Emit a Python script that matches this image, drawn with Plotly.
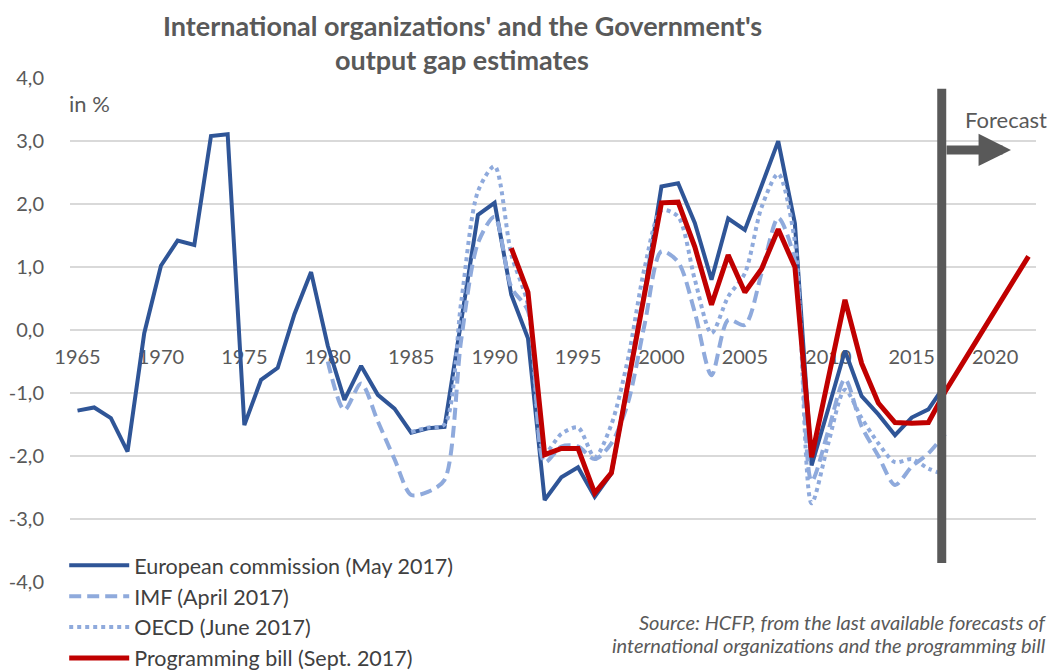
import plotly.graph_objects as go

# ---- data ----
ec_years = list(range(1965, 2018))
ec_values = [-1.28, -1.23, -1.40, -1.93, -0.05, 1.02, 1.42, 1.35, 3.08, 3.11,
             -1.51, -0.79, -0.60, 0.25, 0.92, -0.25, -1.11, -0.57, -1.03, -1.25,
             -1.63, -1.56, -1.54, 0.15, 1.83, 2.02, 0.56, -0.13, -2.70, -2.34,
             -2.18, -2.65, -2.28, -0.82, 0.62, 2.28, 2.33, 1.70, 0.80, 1.77,
             1.59, 2.29, 3.00, 1.69, -2.15, -1.25, -0.33, -1.05, -1.34, -1.67,
             -1.39, -1.26, -0.87]

imf_years = list(range(1980, 2018))
imf_values = [-0.50, -1.27, -0.85, -1.45, -2.05, -2.62, -2.57, -2.38, -0.15, 1.38,
              1.80, 0.68, 0.30, -2.10, -1.85, -1.85, -2.05, -1.80, -1.15, 0.10,
              1.25, 1.08, 0.28, -0.72, 0.16, 0.08, 0.90, 1.78, 1.10, -2.40,
              -1.60, -0.78, -1.53, -2.00, -2.46, -2.17, -1.96, -1.65]

oecd_years = list(range(1985, 2018))
oecd_values = [-1.62, -1.55, -1.50, 0.45, 2.20, 2.60, 1.20, 0.40, -1.95, -1.65,
               -1.55, -2.02, -1.50, -0.45, 1.00, 1.90, 1.80, 0.80, -0.05, 0.53,
               0.90, 1.95, 2.48, 1.40, -2.75, -1.80, -0.95, -1.40, -1.80, -2.10,
               -2.05, -2.20, -2.30]

bill_years = list(range(1991, 2023))
bill_values = [1.30, 0.60, -1.98, -1.88, -1.88, -2.59, -2.27, -0.85, 0.58, 2.02,
               2.03, 1.32, 0.40, 1.19, 0.60, 0.97, 1.60, 1.00, -2.02, -0.78,
               0.48, -0.53, -1.16, -1.47, -1.48, -1.47, -0.98, -0.55, -0.12, 0.30,
               0.74, 1.17]

x_tick_vals = [1965, 1970, 1975, 1980, 1985, 1990, 1995, 2000, 2005, 2010, 2015, 2020]
x_tick_text = ["1965", "1970", "1975", "1980", "1985", "1990", "1995", "2000",
               "2005", "2010", "2015", "2020"]
y_tick_vals = [-4, -3, -2, -1, 0, 1, 2, 3, 4]
y_tick_text = ["-4,0", "-3,0", "-2,0", "-1,0", "0,0", "1,0", "2,0", "3,0", "4,0"]

series_names = ["European commission (May 2017)", "IMF (April 2017)",
                "OECD (June 2017)", "Programming bill (Sept. 2017)"]

forecast_year = 2016.8

FONT = "Lato"
GRAY = "#595959"
TEXT = "#404040"

fig = go.Figure()
fig.add_trace(go.Scatter(x=ec_years, y=ec_values, mode="lines", name=series_names[0],
                         legendgroup="a",
                         line=dict(color="#2F5597", width=4)))
fig.add_trace(go.Scatter(x=imf_years, y=imf_values, mode="lines", name=series_names[1],
                         legendgroup="b",
                         line=dict(color="#8FAADC", width=4, dash="12px,6px",
                                   shape="spline", smoothing=0.8)))
fig.add_trace(go.Scatter(x=oecd_years, y=oecd_values, mode="lines", name=series_names[2],
                         legendgroup="c",
                         line=dict(color="#8FAADC", width=4, dash="4px,4px",
                                   shape="spline", smoothing=0.8)))
fig.add_trace(go.Scatter(x=bill_years, y=bill_values, mode="lines", name=series_names[3],
                         legendgroup="d",
                         line=dict(color="#C00000", width=5)))

# forecast separator
fig.add_shape(type="line", xref="x", yref="y", x0=forecast_year, x1=forecast_year,
              y0=-3.7, y1=3.83, line=dict(color=GRAY, width=9), layer="above")

fig.add_annotation(xref="x", yref="y", x=2020.95, y=2.86, ax=forecast_year + 0.2, ay=2.86,
                   axref="x", ayref="y", text="", showarrow=True, arrowhead=2,
                   arrowwidth=9, arrowsize=0.72, arrowcolor=GRAY, standoff=0, startstandoff=0)
fig.add_annotation(xref="x", yref="y", x=2018.1, y=3.34, text="Forecast", showarrow=False,
                   xanchor="left", yanchor="middle",
                   font=dict(family=FONT, size=22, color=GRAY))

# titles and notes
fig.add_annotation(xref="paper", yref="paper", x=0.4058, y=1.105, yanchor="middle",
                   text="<b>International organizations' and the Government's</b>",
                   showarrow=False, font=dict(family=FONT, size=27, color=GRAY))
fig.add_annotation(xref="paper", yref="paper", x=0.4058, y=1.0365, yanchor="middle",
                   text="<b>output gap estimates</b>",
                   showarrow=False, font=dict(family=FONT, size=27, color=GRAY))
fig.add_annotation(xref="paper", yref="paper", x=-0.003, y=0.949, xanchor="left",
                   yanchor="middle", text="in %", showarrow=False,
                   font=dict(family=FONT, size=22, color=GRAY))
fig.add_annotation(xref="paper", yref="paper", x=1.0124, y=-0.0795, xanchor="right",
                   yanchor="middle",
                   text="<i>Source: HCFP, from the last available forecasts of</i>",
                   showarrow=False, font=dict(family=FONT, size=20, color=GRAY))
fig.add_annotation(xref="paper", yref="paper", x=1.0124, y=-0.1251, xanchor="right",
                   yanchor="middle",
                   text="<i>international organizations and the programming bill</i>",
                   showarrow=False, font=dict(family=FONT, size=20, color=GRAY))

fig.update_layout(
    width=1052, height=670,
    margin=dict(l=70, r=16, t=78, b=88, autoexpand=False),
    paper_bgcolor="white", plot_bgcolor="white",
    font=dict(family=FONT, color=GRAY),
    showlegend=True,
    legend=dict(x=-0.006, y=0.074, xanchor="left", yanchor="top",
                bgcolor="rgba(0,0,0,0)", font=dict(family=FONT, size=21.5, color=TEXT),
                tracegroupgap=0, itemwidth=60),
    xaxis=dict(range=[1964.55, 2022.45], tickvals=x_tick_vals, ticktext=x_tick_text,
               showgrid=False, zeroline=False, showline=False, anchor="free",
               position=0.5, layer="below traces", ticks="", ticklabelstandoff=13,
               automargin=False,
               tickfont=dict(family=FONT, size=20, color=GRAY)),
    yaxis=dict(range=[-4.002, 4.002], tickvals=y_tick_vals, ticktext=y_tick_text,
               showgrid=True, gridcolor="#D9D9D9", gridwidth=1.5, zeroline=False,
               showline=False, ticks="", ticklabelstandoff=25, automargin=False,
               tickfont=dict(family=FONT, size=20, color=GRAY)),
)

fig.write_html("out.html", config={"displayModeBar": False},
               post_script="document.body.style.margin='0';document.body.style.overflow='hidden';")
